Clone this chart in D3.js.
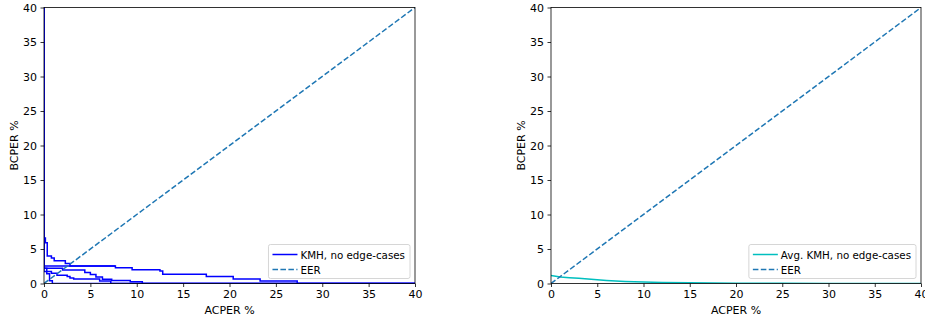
<!DOCTYPE html>
<html><head><meta charset="utf-8">
<script src="https://cdn.jsdelivr.net/npm/d3@7"></script>
<style>body{margin:0;background:#fff}svg{font-family:"DejaVu Sans",sans-serif}</style>
</head><body><svg id="c" width="925" height="320"></svg>
<script>
const ticks = [0,5,10,15,20,25,30,35,40];
const eer = [[0,0],[40,40]];
// left panel: per-run KMH DET step curves [ACPER, BCPER]
const kmhRun1 = [[0,40],[0,6.6],[0.15,5.9],[0.35,4.0],[0.8,3.7],[1.1,3.3],[2.3,2.9],[2.8,2.55],[7.7,2.3],[9.5,2.0],[12.5,1.8],[12.8,1.35],[17.5,1.0],[20.4,0.65],[23.3,0.35],[27.3,0],[40,0]];
const kmhRun2 = [[0,40],[0,2.55],[7.7,2.55]];
const kmhRun3 = [[0,40],[0,2.2],[2.0,1.95],[4.4,1.6],[5.0,1.3],[5.6,0.95],[6.3,0.62],[7.3,0.45],[9.3,0.25],[10.6,0],[40,0]];
const kmhRun4 = [[0,40],[0,1.75],[0.8,1.5],[1.4,1.2],[2.5,1.0],[2.8,0.8],[3.2,0.65],[6.0,0.35],[7.2,0],[40,0]];
const kmhRun5 = [[0,40],[0,2.2],[0.3,1.4],[0.6,0.4],[0.9,0],[40,0]];
const kmhRuns = [kmhRun1, kmhRun2, kmhRun3, kmhRun4, kmhRun5];
// right panel: averaged KMH curve
const avgX = [0,1,2,3,4,6,8,10,12,15,20,25,30,40];
const avgY = [1.15,0.95,0.85,0.75,0.65,0.45,0.3,0.2,0.15,0.1,0.05,0.02,0.01,0];

const svg = d3.select("#c");
const H = {top:7.5, bottom:283.5};
const FS = 11, LFS = 10.3;

function panel(x0, x1, id, drawData, legendItems){
  const x = d3.scaleLinear().domain([0,40]).range([x0,x1]);
  const y = d3.scaleLinear().domain([0,40]).range([H.bottom,H.top]);
  const g = svg.append("g");
  g.append("clipPath").attr("id",id).append("rect")
    .attr("x",x0).attr("y",H.top).attr("width",x1-x0).attr("height",H.bottom-H.top);
  const plot = g.append("g").attr("clip-path",`url(#${id})`);
  drawData(plot,x,y);
  plot.append("path").datum(eer)
    .attr("d",d3.line().x(d=>x(d[0])).y(d=>y(d[1])))
    .attr("fill","none").attr("stroke","#1f77b4").attr("stroke-width",1.5)
    .attr("stroke-dasharray","5.55,2.4");
  const xa = g.append("g").attr("transform",`translate(0,${H.bottom})`)
    .call(d3.axisBottom(x).tickValues(ticks).tickFormat(d3.format("d")).tickSize(3.5).tickPadding(3.5));
  const ya = g.append("g").attr("transform",`translate(${x0},0)`)
    .call(d3.axisLeft(y).tickValues(ticks).tickFormat(d3.format("d")).tickSize(3.5).tickPadding(3.5));
  [xa,ya].forEach(a=>{a.select(".domain").remove();
    a.selectAll("text").attr("font-size",FS).attr("fill","#000").attr("font-family","DejaVu Sans");
    a.selectAll("line").attr("stroke","#000").attr("stroke-width",0.8);});
  g.append("rect").attr("x",x0).attr("y",H.top).attr("width",x1-x0).attr("height",H.bottom-H.top)
    .attr("fill","none").attr("stroke","#000").attr("stroke-width",0.8);
  g.append("text").attr("x",(x0+x1)/2).attr("y",314).attr("text-anchor","middle")
    .attr("font-size",FS).text("ACPER %");
  g.append("text").attr("transform",`translate(${x0-26},${(H.top+H.bottom)/2}) rotate(-90)`)
    .attr("text-anchor","middle").attr("font-size",FS).text("BCPER %");
  const lg = g.append("g");
  const rect = lg.append("rect");
  let maxW = 0;
  const items = legendItems.map(it=>{
    const t = lg.append("text").attr("font-size",LFS).text(it.label);
    maxW = Math.max(maxW, t.node().getComputedTextLength());
    return t;
  });
  const legW = 32 + maxW + 5, legH = 34;
  const lx = x1-5-legW, ly = H.bottom-5-legH;
  rect.attr("x",lx).attr("y",ly).attr("width",legW).attr("height",legH).attr("rx",2)
    .attr("fill","#fff").attr("fill-opacity",0.8).attr("stroke","#ccc").attr("stroke-width",0.8);
  legendItems.forEach((it,i)=>{
    const yy = ly+10+i*15;
    lg.append("line").attr("x1",lx+4).attr("x2",lx+29).attr("y1",yy).attr("y2",yy)
      .attr("stroke",it.color).attr("stroke-width",1.5).attr("stroke-dasharray",it.dash||null);
    items[i].attr("x",lx+32).attr("y",yy+4);
  });
}

const line = (x,y)=>d3.line().x(d=>x(d[0])).y(d=>y(d[1]));

panel(44,415,"clipL",(p,x,y)=>{
  kmhRuns.forEach(r=>{
    p.append("path").datum(r).attr("d",line(x,y).curve(d3.curveStepAfter))
      .attr("fill","none").attr("stroke","#0000ff").attr("stroke-width",1.5);
  });
},[{label:"KMH, no edge-cases",color:"#0000ff"},{label:"EER",color:"#1f77b4",dash:"5.55,2.4"}]);

panel(551,921,"clipR",(p,x,y)=>{
  const pts = avgX.map((v,i)=>[v,avgY[i]]);
  p.append("path").datum(pts).attr("d",line(x,y))
    .attr("fill","none").attr("stroke","#00bfbf").attr("stroke-width",1.5);
},[{label:"Avg. KMH, no edge-cases",color:"#00bfbf"},{label:"EER",color:"#1f77b4",dash:"5.55,2.4"}]);
</script></body></html>
